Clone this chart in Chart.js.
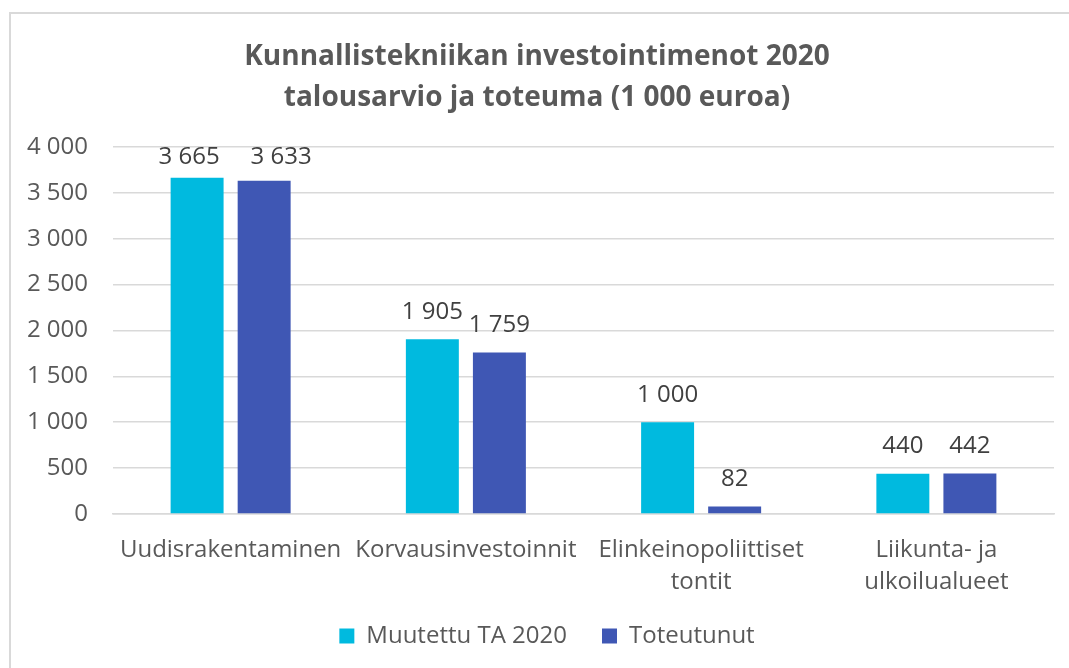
<!DOCTYPE html>
<html>
<head>
<meta charset="utf-8">
<script src="https://cdn.jsdelivr.net/npm/chart.js@4"></script>
<style>
  html, body { margin: 0; padding: 0; background: #fff; overflow: hidden; }
  #frame {
    position: absolute; left: 9px; top: 12px; width: 1100px; height: 700px;
    border: 2px solid #d9d9d9; box-sizing: border-box;
  }
  #wrap { position: absolute; left: 0; top: 0; width: 1069px; height: 668px; }
</style>
</head>
<body>
<div id="frame"></div>
<div id="wrap"><canvas id="chart" width="1069" height="668"></canvas></div>
<script>
// ── Data ───────────────────────────────────────────────────────
const categories = [
  'Uudisrakentaminen',
  'Korvausinvestoinnit',
  ['Elinkeinopoliittiset', 'tontit'],
  ['Liikunta- ja', 'ulkoilualueet']
];
const seriesNames = ['Muutettu TA 2020', 'Toteutunut'];
const budget = [3665, 1905, 1000, 440];
const actual = [3633, 1759, 82, 442];
const yTicks = [0, 500, 1000, 1500, 2000, 2500, 3000, 3500, 4000];

const titleLines = [
  'Kunnallistekniikan investointimenot 2020',
  'talousarvio ja toteuma (1 000 euroa)'
];

// ── Helpers ────────────────────────────────────────────────────
function fmt(v) {
  return String(v).replace(/\B(?=(\d{3})+(?!\d))/g, ' ');
}

const FONT = "'Open Sans', 'Noto Sans', sans-serif";

// Data labels above the bars (pushed apart when squeezed under the top)
const barLabels = {
  id: 'barLabels',
  afterDatasetsDraw(chart) {
    const ctx = chart.ctx;
    const top = chart.chartArea.top;
    ctx.save();
    ctx.font = '24px ' + FONT;
    ctx.fillStyle = '#404040';
    ctx.textAlign = 'center';
    ctx.textBaseline = 'middle';
    chart.data.datasets.forEach((ds, i) => {
      chart.getDatasetMeta(i).data.forEach((bar, j) => {
        let y = bar.y - 27;
        let dx = 0;
        if (y < top + 10) {
          y = top + 10;
          dx = i === 0 ? -8 : 17;
        }
        ctx.fillText(fmt(ds.data[j]), bar.x + dx, y);
      });
    });
    ctx.restore();
  }
};

// Title and legend sit centred on the frame, not on the plot
const shiftBlocks = {
  id: 'shiftBlocks',
  afterLayout(chart) {
    if (chart.titleBlock) { chart.titleBlock.left += 10; chart.titleBlock.right += 10; }
    if (chart.legend) { chart.legend.left += 20; chart.legend.right += 20; }
  }
};

// ── Chart ──────────────────────────────────────────────────────
new Chart(document.getElementById('chart'), {
  type: 'bar',
  data: {
    labels: categories,
    datasets: [
      {
        label: seriesNames[0],
        data: budget,
        backgroundColor: '#00BADF',
        barPercentage: 0.79,
        categoryPercentage: 0.57
      },
      {
        label: seriesNames[1],
        data: actual,
        backgroundColor: '#3F57B4',
        barPercentage: 0.79,
        categoryPercentage: 0.57
      }
    ]
  },
  options: {
    responsive: false,
    animation: false,
    layout: { padding: { left: 0, right: 15, top: 0, bottom: 10 } },
    plugins: {
      title: {
        display: true,
        text: titleLines,
        color: '#595959',
        font: { family: FONT, size: 28, weight: 'bold', lineHeight: 1.464 },
        padding: { top: 37, bottom: 28 }
      },
      legend: {
        position: 'bottom',
        labels: {
          color: '#595959',
          font: { family: FONT, size: 24 },
          boxWidth: 15,
          boxHeight: 15,
          padding: 35
        }
      },
      tooltip: { enabled: false }
    },
    scales: {
      x: {
        afterFit(scale) { scale.height = 75; },
        grid: { display: false, drawTicks: false },
        border: { display: true, color: '#d9d9d9', width: 1.5 },
        ticks: {
          color: '#595959',
          font: { family: FONT, size: 24, lineHeight: 1.333 },
          padding: 20,
          maxRotation: 0,
          autoSkip: false
        }
      },
      y: {
        min: 0,
        max: 4000,
        afterFit(scale) { scale.width = 113; },
        afterBuildTicks(scale) { scale.ticks = yTicks.map(v => ({ value: v })); },
        grid: { color: '#d9d9d9', lineWidth: 1.5, drawTicks: false },
        border: { display: false },
        ticks: {
          color: '#595959',
          font: { family: FONT, size: 24 },
          padding: 25,
          callback: v => fmt(v)
        }
      }
    }
  },
  plugins: [barLabels, shiftBlocks]
});
</script>
</body>
</html>
